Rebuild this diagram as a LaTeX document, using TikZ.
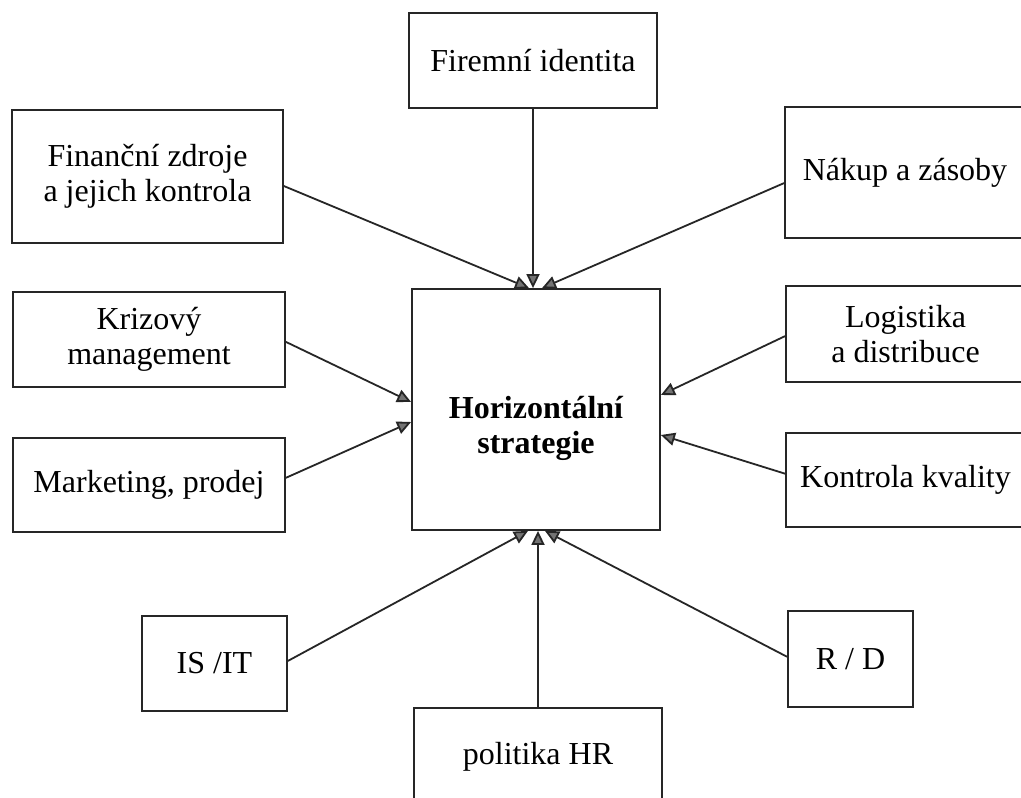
\documentclass[tikz,border=0pt]{standalone}
\usepackage{fontspec}
\setmainfont{Liberation Serif}
\usetikzlibrary{arrows.meta,calc}
\begin{document}
\begin{tikzpicture}[x=1pt,y=-1pt,
  box/.style={draw=black!85, line width=1.8pt, fill=white, inner sep=0pt,
              align=center, font=\fontsize{32}{35}\selectfont},
  boxtext/.style={align=center, inner sep=0pt, font=\fontsize{32}{35}\selectfont\bfseries},
  link/.style={draw=black!85, line width=1.8pt,
               -{Triangle[length=14pt,width=13pt,fill=black!55]}},
]
\useasboundingbox (0,0) rectangle (1021,798);
\clip (0,0) rectangle (1021,798);
\fill[white] (0,0) rectangle (1021,798);

% central box
\node[box, minimum width=248pt, minimum height=241pt] (ctr) at (536,409.5) {};
\node[boxtext] (ctrlabel) at (536,428) {Horizontální\\strategie};

% surrounding boxes
\node[box, minimum width=248pt, minimum height=95pt]  (fir) at (533,60.5)   {Firemní identita};
\node[box, minimum width=271pt, minimum height=133pt] (fin) at (147.5,176.5) {Finanční zdroje\\a jejich kontrola};
\node[box, minimum width=240pt, minimum height=131pt] (nak) at (905,172.5)   {Nákup a zásoby};
\node[box, minimum width=272pt, minimum height=95pt]  (kri) at (149,339.5)   {Krizový\\management};
\node[box, minimum width=272pt, minimum height=94pt]  (mar) at (149,485)     {Marketing, prodej};
\node[box, minimum width=239pt, minimum height=96pt]  (log) at (905.5,334)   {Logistika\\a distribuce};
\node[box, minimum width=239pt, minimum height=94pt]  (kon) at (905.5,480)   {Kontrola kvality};
\node[box, minimum width=145pt, minimum height=95pt]  (ist) at (214.5,663.5) {IS /IT};
\node[box, minimum width=125pt, minimum height=96pt]  (rd)  at (850.5,659)   {R / D};
\node[box, minimum width=248pt, minimum height=97pt]  (hr)  at (538,756.5)   {politika HR};

% arrow targets on the central box
\coordinate (tFin) at ($(ctr.north)+(-7,0)$);
\coordinate (tNak) at ($(ctr.north)+(6,0)$);
\coordinate (tKri) at ($(ctr.west)+(0,-7.5)$);
\coordinate (tMar) at ($(ctr.west)+(0,12.5)$);
\coordinate (tLog) at ($(ctr.east)+(0,-14.5)$);
\coordinate (tKon) at ($(ctr.east)+(0,25.5)$);
\coordinate (tIst) at ($(ctr.south)+(-8,0)$);
\coordinate (tRd)  at ($(ctr.south)+(9,0)$);

% connectors
\draw[link] (fir.south) -- (fir.south |- ctr.north);
\draw[link] (fin.-4.4) -- (tFin);
\draw[link] (nak.185) -- (tNak);
\draw[link] (kri.-1.9) -- (tKri);
\draw[link] (mar.3.8) -- (tMar);
\draw[link] (log.181.9) -- (tLog);
\draw[link] (kon.177.6) -- (tKon);
\draw[link] (ist.2.8) -- (tIst);
\draw[link] (rd.178.2) -- (tRd);
\draw[link] (hr.north) -- (hr.north |- ctr.south);
\end{tikzpicture}
\end{document}
